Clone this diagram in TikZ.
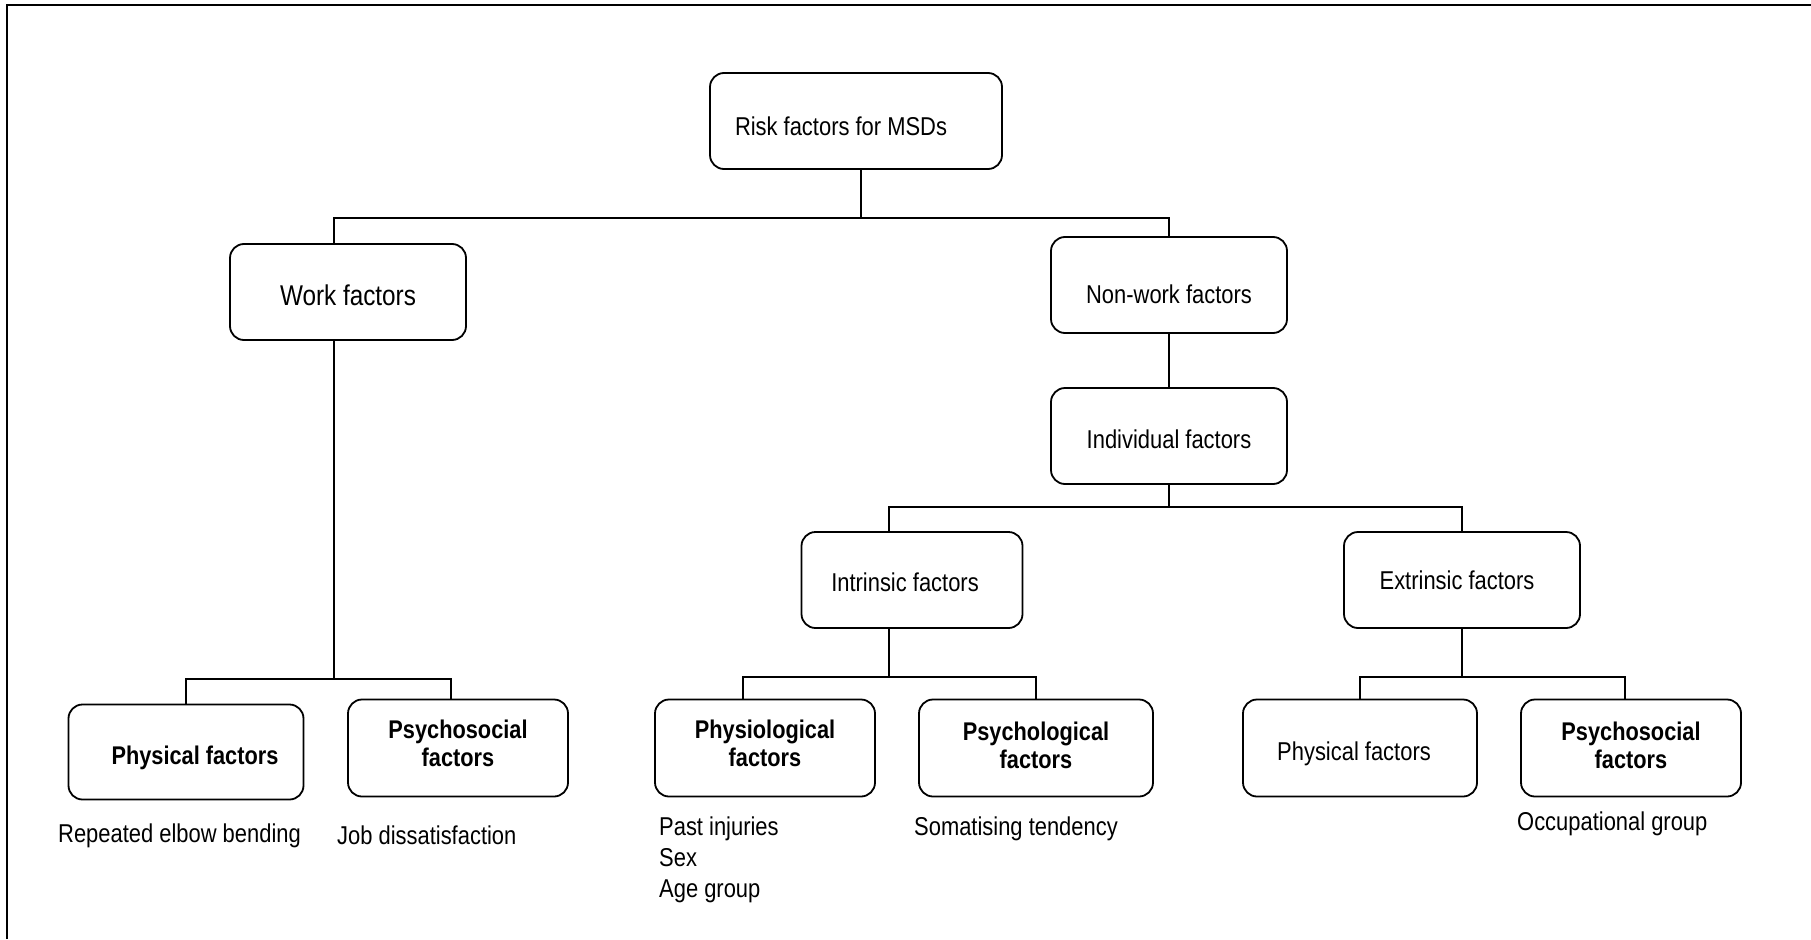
\documentclass[tikz,border=0pt]{standalone}
\usepackage{fontspec}
\setmainfont[FakeStretch=0.85]{Liberation Sans}
\usetikzlibrary{positioning}

\begin{document}
\begin{tikzpicture}[x=1pt, y=-1pt]

\tikzset{
    factor box/.style={
        draw, line width=1.8pt, rounded corners=14pt,
        minimum width=#1, minimum height=96pt,
        inner sep=2pt, align=center,
        font=\fontsize{25.8}{27.5}\selectfont
    },
    factor box/.default=230pt,
    key box/.style={
        factor box=#1, text depth=10pt,
        font=\fontsize{25.6}{27.5}\selectfont\bfseries
    },
    key box/.default=220pt,
    link/.style={line width=1.5pt},
    note/.style={
        anchor=west, inner sep=0pt, align=left,
        font=\fontsize{25.8}{31}\selectfont
    }
}

% Page frame (only top and left edges show)
\useasboundingbox (0,0) rectangle (1811,939);
\draw[line width=2.5pt] (7,939) -- (7,5) -- (1811,5);

% Top of the tree
\node[factor box=292pt, text height=29pt] (risk) at (856,121) {\hspace*{-30pt}Risk factors for MSDs};
\node[factor box=236pt, text height=28pt, font=\fontsize{28.6}{32}\selectfont] (work) at (348,292) {Work factors};
\node[factor box=236pt, text height=37pt] (nonwork) at (1169,285) {Non-work factors};
\node[factor box=236pt, text height=26pt] (indiv) at (1169,436) {Individual factors};

% Intrinsic / extrinsic split
\node[factor box=221pt, text height=23pt] (intrinsic) at (912,580) {\hspace*{-14pt}Intrinsic factors};
\node[factor box=236pt] (extrinsic) at (1462,580) {\hspace*{-10pt}Extrinsic factors};

% Bottom row
\node[key box=235pt, minimum height=95pt, text height=25.7pt, text depth=0pt] (wphys) at (186,752) {\hspace*{18pt}Physical factors};
\node[key box=220pt, minimum height=97pt] (wpsy) at (458,748) {Psychosocial\\factors};
\node[key box=220pt, minimum height=97pt] (physio) at (765,748) {Physiological\\factors};
\node[key box=234pt, minimum height=97pt, text depth=6pt] (psycho) at (1036,748) {Psychological\\factors};
\node[factor box=234pt, minimum height=97pt, text height=25pt, text depth=0pt] (ephys) at (1360,748) {\hspace*{-12pt}Physical factors};
\node[key box=220pt, minimum height=97pt, text depth=6pt] (epsy) at (1631,748) {Psychosocial\\factors};

% Examples under the boxes
\node[note] (wphysnote) at (58,836) {Repeated elbow bending};
\node[note] (wpsynote) at (337,835) {Job dissatisfaction};
\node[note] (physionote) at (659,860) {Past injuries\\Sex\\Age group};
\node[note] (psychonote) at (914,829) {Somatising tendency};
\node[note] (epsynote) at (1517,824) {Occupational group};

% Connectors
\draw[link] ([xshift=5pt]risk.south) -- ++(0,48) -| ([xshift=-14pt]work.north);
\draw[link] ([xshift=5pt]risk.south) ++(0,48) -| (nonwork.north);
\draw[link] (nonwork.south) -- (indiv.north);

\draw[link] ([xshift=-14pt]work.south) -- ++(0,338) -| (wphys.north);
\draw[link] ([xshift=-14pt]work.south) ++(0,338) -| ([xshift=-7pt]wpsy.north);

\draw[link] (indiv.south) -- ++(0,22) -| ([xshift=-23pt]intrinsic.north);
\draw[link] (indiv.south) ++(0,22) -| (extrinsic.north);

\draw[link] ([xshift=-23pt]intrinsic.south) -- ++(0,48) -| ([xshift=-22pt]physio.north);
\draw[link] ([xshift=-23pt]intrinsic.south) ++(0,48) -| (psycho.north);

\draw[link] (extrinsic.south) -- ++(0,48) -| (ephys.north);
\draw[link] (extrinsic.south) ++(0,48) -| ([xshift=-6pt]epsy.north);

\end{tikzpicture}
\end{document}
